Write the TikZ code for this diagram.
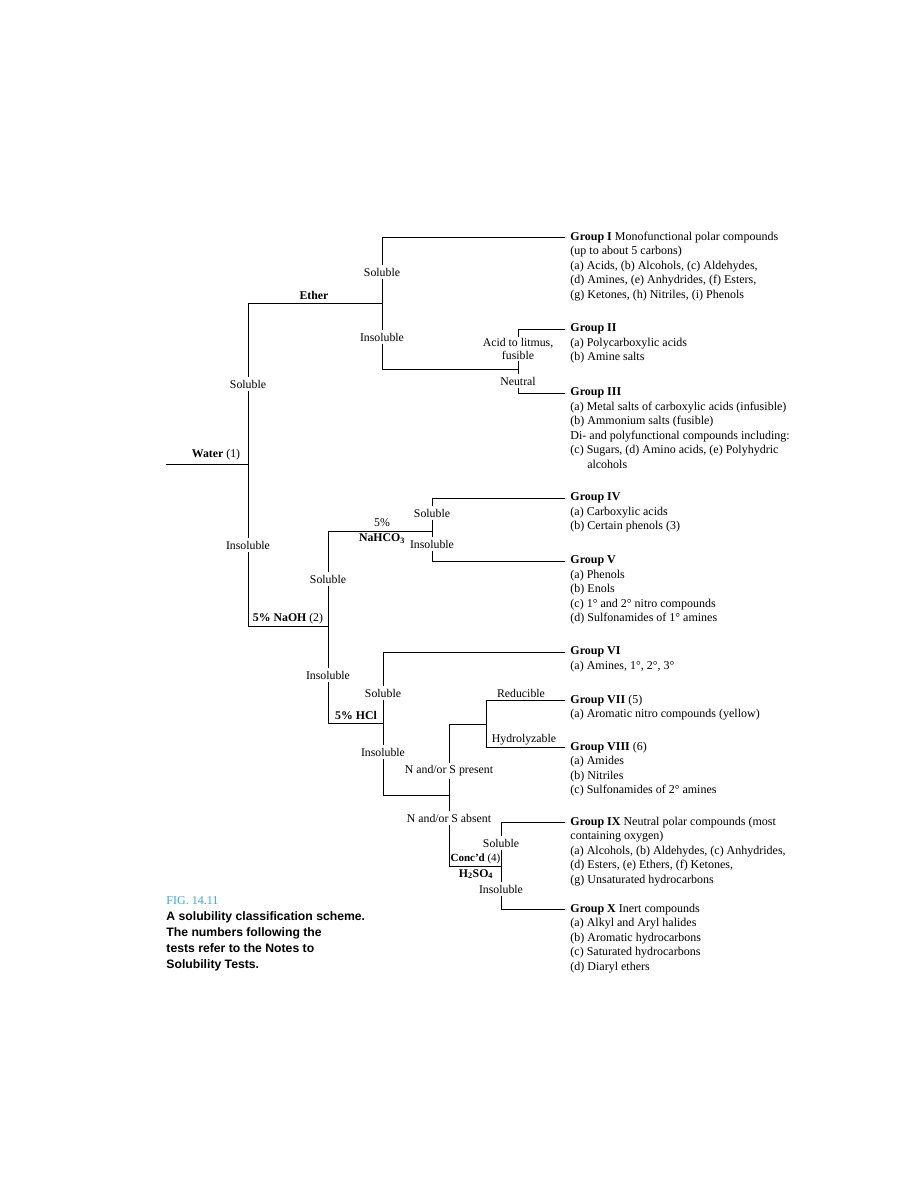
\documentclass[tikz,border=0pt]{standalone}
\usepackage{fontspec}
\setmainfont{Liberation Serif}
\setsansfont{Liberation Sans}
\usetikzlibrary{calc}
\definecolor{figblue}{HTML}{3BA3DC}
\tikzset{
  lbl/.style={inner sep=2pt,font=\fontsize{11.8}{13}\selectfont},
  tag/.style={inner sep=1pt,font=\fontsize{11.8}{13}\selectfont},
  grp/.style={anchor=north west,align=left,inner sep=0pt,font=\fontsize{12}{14.5}\selectfont},
}
\begin{document}
\begin{tikzpicture}[x=1pt,y=-1pt,line width=0.9pt]
\useasboundingbox (0,0) rectangle (918,1188);
% junctions of the tree
\coordinate (w0) at (166,464); \coordinate (w1) at (248,464);
\coordinate (e0) at (248,303); \coordinate (e1) at (382,303);
\coordinate (s1) at (382,237); \coordinate (gI) at (565,237);
\coordinate (i1) at (382,369); \coordinate (i2) at (518,369);
\coordinate (a0) at (518,329); \coordinate (gII) at (565,329);
\coordinate (a1) at (518,393); \coordinate (gIII) at (565,393);
\coordinate (n0) at (248,626); \coordinate (n1) at (328,626);
\coordinate (b0) at (328,531); \coordinate (b1) at (432,531);
\coordinate (c0) at (432,498); \coordinate (gIV) at (565,498);
\coordinate (c1) at (432,561); \coordinate (gV) at (565,561);
\coordinate (h0) at (328,723); \coordinate (h1) at (383,723);
\coordinate (d0) at (383,652); \coordinate (gVI) at (565,652);
\coordinate (d1) at (383,795); \coordinate (d2) at (449,795);
\coordinate (p0) at (449,724); \coordinate (p1) at (486,724);
\coordinate (r0) at (486,700); \coordinate (gVII) at (565,700);
\coordinate (r1) at (486,747); \coordinate (gVIII) at (565,747);
\coordinate (q0) at (449,866); \coordinate (q1) at (501,866);
\coordinate (t0) at (501,822); \coordinate (gIX) at (565,822);
\coordinate (t1) at (501,909); \coordinate (gX) at (565,909);
% tests
\node[tag] (water) at (216,455) {\textbf{Water} (1)};
\node[tag] (ether) at (314,295) {\textbf{Ether}};
\node[tag] (naoh) at (288,619) {\textbf{5\% NaOH} (2)};
\node[tag] (pct) at (382,523) {5\%};
\node[tag] (bicarb) at (382,539) {\textbf{NaHCO\textsubscript{3}}};
\node[tag] (hcl) at (356,715) {\textbf{5\% HCl}};
\node[tag] (redu) at (521,693) {Reducible};
\node[tag] (hydro) at (524,740) {Hydrolyzable};
\node[tag,font=\fontsize{11}{13}\selectfont] (concd) at (475.5,859) {\textbf{Conc'd} (4)};
\node[tag] (sulf) at (476,874) {\textbf{H\textsubscript{2}SO\textsubscript{4}}};
% results
\node[lbl] (sol0) at (248,384) {Soluble};
\node[lbl] (ins0) at (248,545) {Insoluble};
\node[lbl] (sol1) at (382,272) {Soluble};
\node[lbl] (ins1) at (382,337) {Insoluble};
\node[lbl,align=center,inner sep=1pt] (acid) at (518,349) {Acid to litmus,\\fusible};
\node[lbl] (neut) at (518,381) {Neutral};
\node[lbl] (sol2) at (328,579) {Soluble};
\node[lbl] (ins2) at (328,675) {Insoluble};
\node[lbl] (sol3) at (432,513) {Soluble};
\node[lbl] (ins3) at (432,544) {Insoluble};
\node[lbl] (sol4) at (383,693) {Soluble};
\node[lbl] (ins4) at (383,752) {Insoluble};
\node[lbl] (npres) at (449,771) {N and/or S present};
\node[lbl] (nabs) at (449,818) {N and/or S absent};
\node[lbl] (sol5) at (501,843) {Soluble};
\node[lbl] (ins5) at (501,889) {Insoluble};
% lines
\draw (w0) -- (w1);
\draw (e0) -- (sol0) -- (ins0) -- (n0);
\draw (e0) -- (e1);
\draw (s1) -- (sol1) -- (ins1) -- (i1);
\draw (s1) -- (gI);
\draw (i1) -- (i2);
\draw (gII) -- (a0) -- (acid) -- (neut) -- (a1) -- (gIII);
\draw (n0) -- (n1);
\draw (b0) -- (sol2) -- (ins2) -- (h0);
\draw (b0) -- (b1);
\draw (gIV) -- (c0) -- (sol3) -- (ins3) -- (c1) -- (gV);
\draw (h0) -- (h1);
\draw (gVI) -- (d0) -- (sol4) -- (ins4) -- (d1) -- (d2);
\draw (p0) -- (npres) -- (nabs) -- (q0);
\draw (p0) -- (p1);
\draw (gVII) -| (r1) -- (gVIII);
\draw (q0) -- (q1);
\draw (gIX) -- (t0) -- (sol5) -- (ins5) -- (t1) -- (gX);
% groups
\node[grp] (grpI) at ($(gI)+(5,-5.5)$) {\textbf{Group I} Monofunctional polar compounds\\
  (up to about 5 carbons)\\(a) Acids, (b) Alcohols, (c) Aldehydes,\\
  (d) Amines, (e) Anhydrides, (f) Esters,\\(g) Ketones, (h) Nitriles, (i) Phenols};
\node[grp] (grpII) at ($(gII)+(5,-5.5)$) {\textbf{Group II}\\(a) Polycarboxylic acids\\(b) Amine salts};
\node[grp] (grpIII) at ($(gIII)+(5,-5.5)$) {\textbf{Group III}\\
  (a) Metal salts of carboxylic acids (infusible)\\(b) Ammonium salts (fusible)\\
  Di- and polyfunctional compounds including:\\(c) Sugars, (d) Amino acids, (e) Polyhydric\\
  \hspace*{1.4em}alcohols};
\node[grp] (grpIV) at ($(gIV)+(5,-5.5)$) {\textbf{Group IV}\\(a) Carboxylic acids\\(b) Certain phenols (3)};
\node[grp] (grpV) at ($(gV)+(5,-5.5)$) {\textbf{Group V}\\(a) Phenols\\(b) Enols\\
  (c) 1° and 2° nitro compounds\\(d) Sulfonamides of 1° amines};
\node[grp] (grpVI) at ($(gVI)+(5,-5.5)$) {\textbf{Group VI}\\(a) Amines, 1°, 2°, 3°};
\node[grp] (grpVII) at ($(gVII)+(5,-5.5)$) {\textbf{Group VII} (5)\\(a) Aromatic nitro compounds (yellow)};
\node[grp] (grpVIII) at ($(gVIII)+(5,-5.5)$) {\textbf{Group VIII} (6)\\(a) Amides\\(b) Nitriles\\
  (c) Sulfonamides of 2° amines};
\node[grp] (grpIX) at ($(gIX)+(5,-5.5)$) {\textbf{Group IX} Neutral polar compounds (most\\
  containing oxygen)\\(a) Alcohols, (b) Aldehydes, (c) Anhydrides,\\
  (d) Esters, (e) Ethers, (f) Ketones,\\(g) Unsaturated hydrocarbons};
\node[grp] (grpX) at ($(gX)+(5,-5.5)$) {\textbf{Group X} Inert compounds\\(a) Alkyl and Aryl halides\\
  (b) Aromatic hydrocarbons\\(c) Saturated hydrocarbons\\(d) Diaryl ethers};
% caption
\node[anchor=west,inner sep=0pt,text=figblue,font=\fontsize{12}{14}\selectfont] (figno) at (166,901) {FIG. 14.11};
\node[anchor=north west,align=left,inner sep=0pt,font=\sffamily\bfseries\fontsize{12.2}{16}\selectfont]
  (caption) at (166,911) {A solubility classification scheme.\\The numbers following the\\
  tests refer to the Notes to\\Solubility Tests.};
\end{tikzpicture}
\end{document}
